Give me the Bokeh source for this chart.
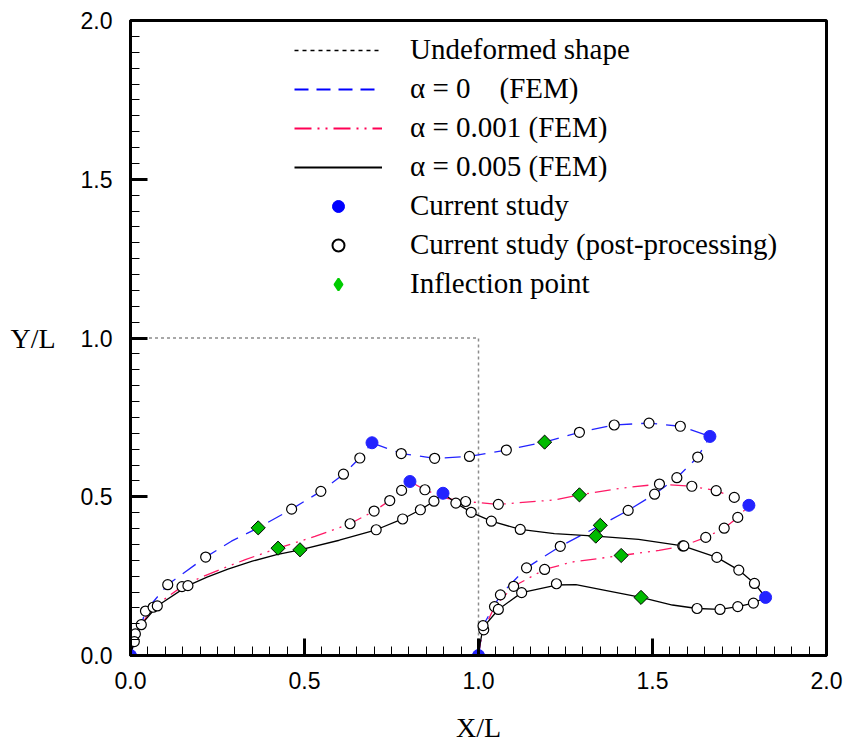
import numpy as np
from bokeh.plotting import figure
from bokeh.models import (Range1d, SingleIntervalTicker, PrintfTickFormatter,
                          Legend, LegendItem, ColumnDataSource)
from bokeh.embed import file_html
from bokeh.resources import INLINE

# ---------------- data ----------------
undeformed_x = [0.0, 0.0, 1.0, 1.0]
undeformed_y = [0.0, 1.0, 1.0, 0.0]

# alpha = 0 (FEM): left column, beam, right column
a0_left_x = [0.0, 0.011, 0.031, 0.043, 0.107, 0.216, 0.29, 0.367, 0.463, 0.547, 0.612, 0.659, 0.694]
a0_left_y = [0.0, 0.044, 0.097, 0.140, 0.223, 0.310, 0.360, 0.402, 0.461, 0.517, 0.571, 0.622, 0.670]
a0_beam_x = [0.694, 0.778, 0.874, 0.974, 1.08, 1.19, 1.29, 1.39, 1.49, 1.58, 1.665]
a0_beam_y = [0.670, 0.636, 0.621, 0.627, 0.647, 0.672, 0.703, 0.726, 0.732, 0.722, 0.690]
a0_right_x = [1.0, 1.013, 1.063, 1.138, 1.235, 1.35, 1.43, 1.506, 1.57, 1.63, 1.665]
a0_right_y = [0.0, 0.094, 0.191, 0.276, 0.344, 0.410, 0.457, 0.508, 0.560, 0.625, 0.690]

# alpha = 0.001 (FEM)
a1_left_x = [0.0, 0.014, 0.031, 0.065, 0.148, 0.20, 0.26, 0.33, 0.424, 0.53, 0.631, 0.70, 0.745, 0.779, 0.803]
a1_left_y = [0.0, 0.068, 0.097, 0.152, 0.217, 0.245, 0.272, 0.302, 0.338, 0.375, 0.415, 0.455, 0.488, 0.520, 0.548]
a1_beam_x = [0.803, 0.846, 0.90, 0.963, 1.057, 1.218, 1.29, 1.41, 1.52, 1.613, 1.683, 1.735, 1.777]
a1_beam_y = [0.548, 0.522, 0.497, 0.485, 0.476, 0.490, 0.506, 0.527, 0.540, 0.533, 0.519, 0.498, 0.473]
a1_right_x = [1.0, 1.005, 1.015, 1.046, 1.101, 1.19, 1.267, 1.41, 1.519, 1.587, 1.653, 1.706, 1.745, 1.777]
a1_right_y = [0.0, 0.040, 0.081, 0.154, 0.218, 0.271, 0.294, 0.315, 0.331, 0.345, 0.372, 0.401, 0.435, 0.473]

# alpha = 0.005 (FEM)
a5_left_x = [0.0, 0.011, 0.031, 0.077, 0.165, 0.22, 0.28, 0.35, 0.42, 0.487, 0.60, 0.706, 0.782, 0.833, 0.872, 0.898]
a5_left_y = [0.0, 0.044, 0.097, 0.156, 0.220, 0.247, 0.272, 0.297, 0.318, 0.333, 0.363, 0.396, 0.430, 0.459, 0.486, 0.511]
a5_beam_x = [0.898, 0.935, 0.979, 1.037, 1.12, 1.218, 1.337, 1.46, 1.587, 1.685, 1.748, 1.793, 1.825]
a5_beam_y = [0.511, 0.480, 0.451, 0.423, 0.397, 0.384, 0.376, 0.366, 0.345, 0.309, 0.269, 0.227, 0.183]
a5_right_x = [1.0, 1.005, 1.013, 1.057, 1.124, 1.224, 1.28, 1.364, 1.467, 1.557, 1.628, 1.694, 1.745, 1.79, 1.825]
a5_right_y = [0.0, 0.040, 0.088, 0.145, 0.198, 0.222, 0.223, 0.205, 0.183, 0.159, 0.148, 0.145, 0.154, 0.165, 0.183]

# Current study (solid blue dots): supports and corners
study_x = [0.0, 1.0, 0.694, 1.665, 0.803, 1.777, 0.898, 1.825]
study_y = [0.0, 0.0, 0.670, 0.690, 0.548, 0.473, 0.511, 0.183]

# Current study (post-processing) open circles
post_x = [0.043, 0.107, 0.216, 0.463, 0.547, 0.612, 0.659,
          0.778, 0.874, 0.974, 1.08, 1.29, 1.39, 1.49, 1.58,
          1.063, 1.138, 1.235, 1.43, 1.506, 1.57, 1.63,
          0.014, 0.065, 0.148, 0.631, 0.70, 0.745, 0.779,
          0.846, 0.963, 1.057, 1.52, 1.613, 1.683, 1.735,
          1.015, 1.046, 1.101, 1.19, 1.587, 1.653, 1.706, 1.745,
          0.011, 0.031, 0.077, 0.165, 0.706, 0.782, 0.833, 0.872,
          0.935, 0.979, 1.037, 1.12, 1.590, 1.685, 1.748, 1.793,
          1.013, 1.057, 1.124, 1.224, 1.628, 1.694, 1.745, 1.79]
post_y = [0.140, 0.223, 0.310, 0.461, 0.517, 0.571, 0.622,
          0.636, 0.621, 0.627, 0.647, 0.703, 0.726, 0.732, 0.722,
          0.191, 0.276, 0.344, 0.457, 0.508, 0.560, 0.625,
          0.068, 0.152, 0.217, 0.415, 0.455, 0.488, 0.520,
          0.522, 0.485, 0.476, 0.540, 0.533, 0.519, 0.498,
          0.081, 0.154, 0.218, 0.271, 0.345, 0.372, 0.401, 0.435,
          0.044, 0.097, 0.156, 0.220, 0.396, 0.430, 0.459, 0.486,
          0.480, 0.451, 0.423, 0.397, 0.345, 0.309, 0.269, 0.227,
          0.094, 0.145, 0.198, 0.226, 0.148, 0.145, 0.154, 0.165]

# Inflection points
infl_x = [0.367, 0.424, 0.487, 1.19, 1.29, 1.35, 1.337, 1.41, 1.467]
infl_y = [0.402, 0.338, 0.333, 0.672, 0.506, 0.410, 0.376, 0.315, 0.183]

labels = ["Undeformed shape", "\u03b1 = 0\u00a0\u00a0\u00a0\u00a0(FEM)",
          "\u03b1 = 0.001 (FEM)", "\u03b1 = 0.005 (FEM)", "Current study",
          "Current study (post-processing)", "Inflection point"]

# ---------------- styles ----------------
BLUE = "#2323ff"
PINK = "#ff1a66"
GREEN = "#00bb00"
A0_DASH = "16 9"
A1_DASH = "16 6 2 6 2 6"

p = figure(width=844, height=746, output_backend="svg", toolbar_location=None,
           x_range=Range1d(0, 2), y_range=Range1d(0, 2),
           min_border_left=130, min_border_right=18, min_border_top=20,
           min_border_bottom=91)
p.grid.visible = False
p.outline_line_color = "black"
p.outline_line_width = 3
p.background_fill_color = "white"
p.border_fill_color = "white"

for ax in (p.xaxis, p.yaxis):
    ax.ticker = SingleIntervalTicker(interval=0.5, num_minor_ticks=10)
    ax.formatter = PrintfTickFormatter(format="%.1f")
    ax.axis_line_width = 3
    ax.axis_line_color = "black"
    ax.major_tick_in = 17
    ax.major_tick_out = 0
    ax.minor_tick_in = 9
    ax.minor_tick_out = 0
    ax.major_tick_line_width = 3
    ax.minor_tick_line_width = 1
    ax.major_tick_line_color = "black"
    ax.minor_tick_line_color = "black"
    ax.major_label_text_font = "Liberation Sans"
    ax.major_label_text_font_size = "23px"
    ax.major_label_text_color = "black"
    ax.axis_label_text_font = "Liberation Serif"
    ax.axis_label_text_font_size = "28px"
    ax.axis_label_text_font_style = "normal"
    ax.axis_label_text_color = "black"

p.xaxis.axis_label = "X/L"
p.yaxis.axis_label = "Y/L"
p.yaxis.axis_label_orientation = "horizontal"
p.xaxis.major_label_standoff = 16
p.yaxis.major_label_standoff = 18
p.xaxis.axis_label_standoff = 20
p.yaxis.axis_label_standoff = 22

# undeformed shape
p.line(undeformed_x, undeformed_y, line_color="#8c8c8c", line_width=1.5, line_dash="3 3")

# FEM curves
for xs, ys in ((a0_left_x, a0_left_y), (a0_beam_x, a0_beam_y), (a0_right_x, a0_right_y)):
    p.line(xs, ys, line_color=BLUE, line_width=1.3, line_dash=A0_DASH)
for xs, ys in ((a1_left_x, a1_left_y), (a1_beam_x, a1_beam_y), (a1_right_x, a1_right_y)):
    p.line(xs, ys, line_color=PINK, line_width=1.3, line_dash=A1_DASH)
for xs, ys in ((a5_left_x, a5_left_y), (a5_beam_x, a5_beam_y), (a5_right_x, a5_right_y)):
    p.line(xs, ys, line_color="black", line_width=1.3)

# markers
p.scatter(post_x, post_y, marker="circle", size=10, fill_color="white",
          line_color="black", line_width=1.2)
p.scatter(study_x, study_y, marker="circle", size=12, fill_color=BLUE, line_color=BLUE)
p.scatter(infl_x, infl_y, marker="square", angle=np.pi / 4, size=10,
          fill_color=GREEN, line_color="black", line_width=1)

# legend-only renderers (NaN data, so nothing shows in the plot area)
def blank():
    return ColumnDataSource(data=dict(x=[np.nan], y=[np.nan]))

lg_und = p.line("x", "y", source=blank(), line_color="black", line_width=1.5, line_dash="4 4")
lg_a0 = p.line("x", "y", source=blank(), line_color="#0000ff", line_width=2, line_dash="14 8")
lg_a1 = p.line("x", "y", source=blank(), line_color="#ff0055", line_width=2, line_dash="17 6 2 6 2 6")
lg_a5 = p.line("x", "y", source=blank(), line_color="black", line_width=2)
lg_st = p.scatter("x", "y", source=blank(), marker="circle", fill_color="#0000ff", line_color="#0000ff")
lg_po = p.scatter("x", "y", source=blank(), marker="circle", fill_color="white",
                  line_color="black", line_width=2)
lg_in = p.scatter("x", "y", source=blank(), marker="diamond",
                  fill_color="#00cc00", line_color="#00cc00", line_width=2)

items = [LegendItem(label=t, renderers=[r], index=0) for t, r in
         zip(labels, [lg_und, lg_a0, lg_a1, lg_a5, lg_st, lg_po, lg_in])]
legend = Legend(items=items, location=(164, 355),
                label_text_font="Liberation Serif", label_text_font_size="29px",
                label_text_color="black", glyph_width=88, glyph_height=30,
                label_standoff=28, spacing=6, padding=0, margin=0,
                border_line_alpha=0, background_fill_alpha=0)
p.add_layout(legend)

open("out.html", "w").write(file_html(p, INLINE))
